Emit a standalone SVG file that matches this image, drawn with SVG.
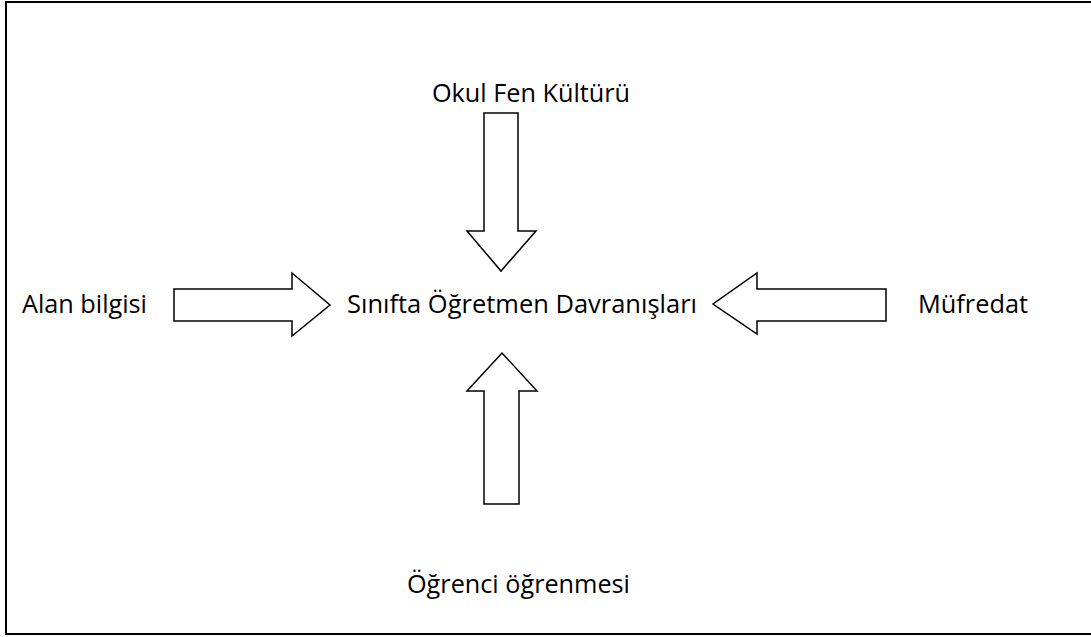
<svg xmlns="http://www.w3.org/2000/svg" width="1091" height="637" viewBox="0 0 1091 637">
  <style>
    .frame { fill: none; stroke: #000; stroke-width: 2; }
    .arrow { fill: #fff; stroke: #000; stroke-width: 1.5; stroke-linejoin: miter; }
    .label { font-family: "Open Sans", "Noto Sans", sans-serif; font-size: 26px; fill: #000; }
  </style>
  <rect width="1091" height="637" fill="#fff"/>
  <!-- outer frame (open on the right) -->
  <polyline class="frame" points="1092,2 6,2 6,634 1092,634"/>

  <g id="connectors">
    <!-- top: pointing down -->
    <path class="arrow" d="M484,113 H518 V231 H536 L501,271 L467,231 H484 Z"/>
    <!-- left: pointing right -->
    <path class="arrow" d="M174,289 H292 V273 L330,305 L292,336 V321 H174 Z"/>
    <!-- right: pointing left -->
    <path class="arrow" d="M886,289 H757 V273 L713,304 L757,334 V321 H886 Z"/>
    <!-- bottom: pointing up -->
    <path class="arrow" d="M484,504 V391 H467 L502,353 L537,391 H519 V504 Z"/>
  </g>

  <g id="node-center">
    <text class="label" x="347" y="313" textLength="350" lengthAdjust="spacingAndGlyphs">Sınıfta Öğretmen Davranışları</text>
  </g>
  <g id="node-top">
    <text class="label" x="432" y="102" textLength="198" lengthAdjust="spacingAndGlyphs">Okul Fen Kültürü</text>
  </g>
  <g id="node-left">
    <text class="label" x="22" y="313" textLength="125" lengthAdjust="spacingAndGlyphs">Alan bilgisi</text>
  </g>
  <g id="node-right">
    <text class="label" x="918" y="313" textLength="110" lengthAdjust="spacingAndGlyphs">Müfredat</text>
  </g>
  <g id="node-bottom">
    <text class="label" x="407" y="593" textLength="223" lengthAdjust="spacingAndGlyphs">Öğrenci öğrenmesi</text>
  </g>
</svg>
